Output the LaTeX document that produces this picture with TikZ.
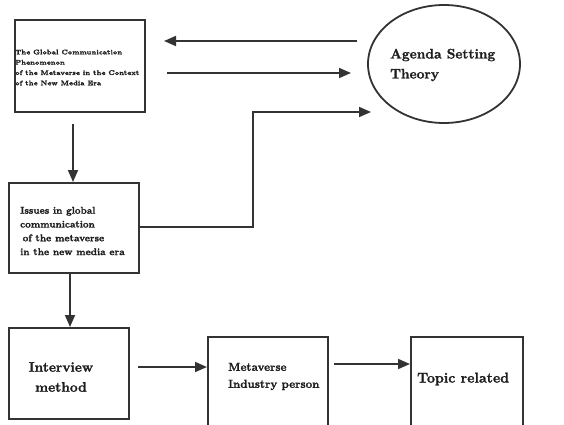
\documentclass[tikz,border=0pt]{standalone}
\usepackage{fontspec}
\setmainfont{Latin Modern Roman}[BoldFeatures={FakeBold=1.6}]
\usetikzlibrary{arrows.meta}
\definecolor{ink}{HTML}{333333}
\definecolor{txt}{HTML}{1E1E1E}
\tikzset{
  box/.style={draw=ink, line width=1.8pt, inner sep=0pt, anchor=north west},
  lbl/.style={inner sep=0pt, text=txt},
  arr/.style={draw=ink, line width=1.8pt, -{Triangle[length=12pt,width=10pt]}},
}
\begin{document}
\begin{tikzpicture}[x=1pt,y=-1pt]
\useasboundingbox (0,0) rectangle (564,425);
\clip (0,0) rectangle (564,425);
% boxes
\node[box, minimum width=130pt, minimum height=92pt] (b1) at (14,19) {};
\node[box, minimum width=130pt, minimum height=90pt] (b2) at (8,182) {};
\node[box, minimum width=120pt, minimum height=91pt] (b3) at (8,327) {};
\node[box, minimum width=120pt, minimum height=110pt] (b4) at (207,336) {};
\node[box, minimum width=112pt, minimum height=110pt] (b5) at (410,336) {};
\draw[ink, line width=1.8pt] (444,64) ellipse [x radius=76, y radius=59];
\coordinate (ell) at (444,64);
% texts
\node[lbl, anchor=west, align=left, font=\fontsize{6.8}{10.3}\selectfont\bfseries] (t1) at (15,67.5)
 {The Global Communication\\Phenomenon\\of the Metaverse in the Context\\of the New Media Era};
\node[lbl, anchor=west, align=left, font=\fontsize{9.8}{13.8}\selectfont\bfseries] (t2) at (20,231)
 {Issues in global\\communication\\\hspace{2.5pt}of the metaverse\\in the new media era};
\node[lbl, align=center, font=\fontsize{13.8}{20}\selectfont\bfseries] (t3) at (61,377)
 {Interview\\method};
\node[lbl, anchor=west, align=left, font=\fontsize{11.6}{17}\selectfont\bfseries] (t4) at (228,376.5)
 {Metaverse\\Industry person};
\node[lbl, anchor=west, font=\fontsize{14.2}{20}\selectfont\bfseries] (t5) at (417,379)
 {Topic related};
\node[lbl, anchor=west, align=left, font=\fontsize{13.8}{20}\selectfont\bfseries] (te) at (390,65)
 {Agenda Setting\\Theory};
% connector ends
\coordinate (e1s) at (357,41);
\coordinate (e1e) at (164,41);
\coordinate (e2s) at (167,73);
\coordinate (e2e) at (351,73);
\coordinate (e3e) at (371,112);
\coordinate (e5s) at (138,367);
\coordinate (e6s) at (334,364);
% arrows
\draw[arr] (e1s) -- (e1e);
\draw[arr] (e2s) -- (e2e);
\draw[arr] (b1.south -| 73,0) ++(0,11) -- (b2.north -| 73,0);
\draw[arr] (b2.south -| 70,0) -- (b3.north -| 70,0);
\draw[arr] (b2.east |- 0,227) -| (253,112) -- (e3e);
\draw[arr] (e5s) -- (b4.west |- e5s);
\draw[arr] (e6s) -- (b5.west |- e6s);
\end{tikzpicture}
\end{document}
